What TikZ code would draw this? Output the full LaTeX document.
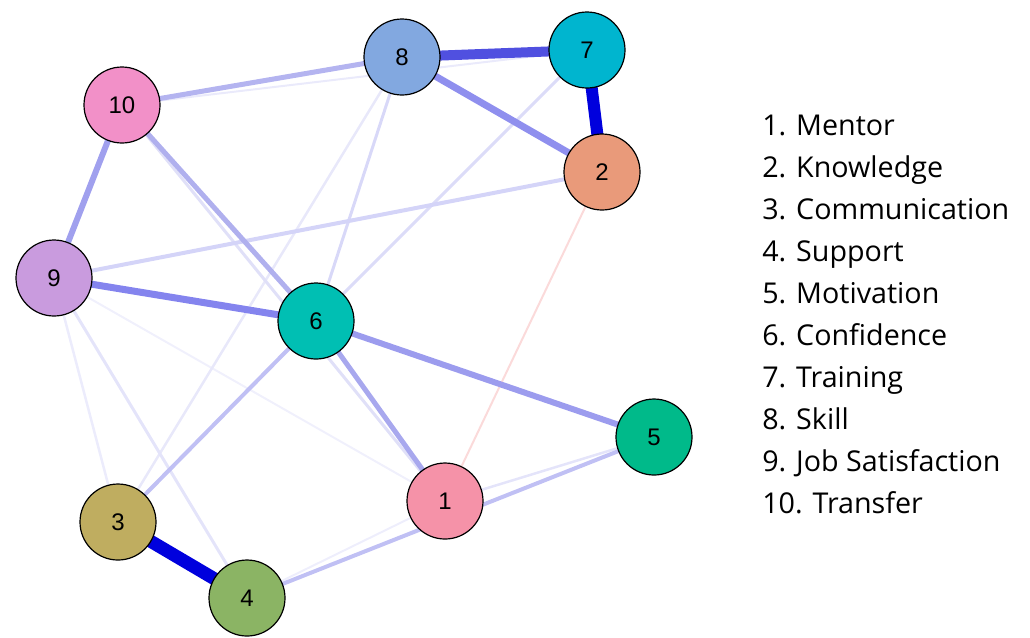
\documentclass[tikz,border=0pt]{standalone}
\usepackage{fontspec}
\setmainfont{Liberation Sans}
\newfontfamily\legendfont{Open Sans}
% node colours
\definecolor{c1}{HTML}{F592A8}
\definecolor{c2}{HTML}{E99A7A}
\definecolor{c3}{HTML}{BFAD60}
\definecolor{c4}{HTML}{8BB464}
\definecolor{c5}{HTML}{00BA8A}
\definecolor{c6}{HTML}{00BFB3}
\definecolor{c7}{HTML}{00B5CF}
\definecolor{c8}{HTML}{82A8E0}
\definecolor{c9}{HTML}{C99BDE}
\definecolor{c10}{HTML}{F290C8}
% edge colours, weakest to strongest
\definecolor{eneg}{HTML}{FBDADA}
\definecolor{e1}{HTML}{F0F0FC}
\definecolor{e2}{HTML}{EEEEFC}
\definecolor{e3}{HTML}{EAEAFB}
\definecolor{e4}{HTML}{ECECFC}
\definecolor{e5}{HTML}{E8E8FA}
\definecolor{e6}{HTML}{E4E4FA}
\definecolor{e7}{HTML}{E0E0F8}
\definecolor{e8}{HTML}{DCDCF8}
\definecolor{e9}{HTML}{D8D8F8}
\definecolor{e10}{HTML}{D4D4F8}
\definecolor{e11}{HTML}{C0C0F4}
\definecolor{e12}{HTML}{B4B4F0}
\definecolor{e13}{HTML}{B0B0EE}
\definecolor{e14}{HTML}{A8A8EE}
\definecolor{e15}{HTML}{A0A0EE}
\definecolor{e16}{HTML}{9C9CEE}
\definecolor{e17}{HTML}{8484EE}
\definecolor{e18}{HTML}{8F8FEE}
\definecolor{e19}{HTML}{5050E0}
\definecolor{e20}{HTML}{0000DD}
\begin{document}
\begin{tikzpicture}[x=0.75pt,y=-0.75pt,
  vert/.style={circle,draw=black,line width=0.9pt,minimum size=57pt,inner sep=0pt,
    font=\fontsize{18}{18}\selectfont},
  edge/.style 2 args={draw={#1},line width=#2*0.75pt},
  legend/.style={anchor=base west,inner sep=0pt,font=\legendfont\fontsize{21.5}{21.5}\selectfont}]
\useasboundingbox (0,0) rectangle (1030,637);
% coordinates of the variables
\coordinate (p1) at (445,501);
\coordinate (p2) at (602,172);
\coordinate (p3) at (118,522);
\coordinate (p4) at (247,598);
\coordinate (p5) at (654,437);
\coordinate (p6) at (316,321);
\coordinate (p7) at (587,50);
\coordinate (p8) at (402,57);
\coordinate (p9) at (54,278);
\coordinate (p10) at (122,105);
% edges, weakest first
\path[edge={eneg}{2}] (p2) -- (p1);
\path[edge={e1}{2}] (p9) -- (p1);
\path[edge={e2}{2}] (p4) -- (p1);
\path[edge={e3}{2}] (p10) -- (p7);
\path[edge={e4}{2.5}] (p9) -- (p3);
\path[edge={e5}{2.5}] (p3) -- (p8);
\path[edge={e6}{3}] (p9) -- (p4);
\path[edge={e6}{2.5}] (p1) -- (p5);
\path[edge={e7}{3}] (p10) -- (p1);
\path[edge={e8}{3}] (p7) -- (p6);
\path[edge={e9}{3}] (p8) -- (p6);
\path[edge={e10}{4}] (p9) -- (p2);
\path[edge={e11}{4}] (p6) -- (p3);
\path[edge={e11}{4}] (p4) -- (p5);
\path[edge={e12}{5}] (p10) -- (p8);
\path[edge={e13}{5}] (p10) -- (p6);
\path[edge={e14}{5}] (p6) -- (p1);
\path[edge={e15}{6}] (p10) -- (p9);
\path[edge={e16}{6}] (p6) -- (p5);
\path[edge={e17}{7}] (p9) -- (p6);
\path[edge={e18}{7}] (p8) -- (p2);
\path[edge={e19}{10}] (p8) -- (p7);
\path[edge={e20}{12}] (p7) -- (p2);
\path[edge={e20}{13}] (p3) -- (p4);
% variables
\node[vert,fill=c1] (n1) at (p1) {1};
\node[vert,fill=c2] (n2) at (p2) {2};
\node[vert,fill=c3] (n3) at (p3) {3};
\node[vert,fill=c4] (n4) at (p4) {4};
\node[vert,fill=c5] (n5) at (p5) {5};
\node[vert,fill=c6] (n6) at (p6) {6};
\node[vert,fill=c7] (n7) at (p7) {7};
\node[vert,fill=c8] (n8) at (p8) {8};
\node[vert,fill=c9] (n9) at (p9) {9};
\node[vert,fill=c10] (n10) at (p10) {10};
% legend
\node[legend] (l1) at (762,135) {1. Mentor};
\node[legend] (l2) at (762,177) {2. Knowledge};
\node[legend] (l3) at (762,219) {3. Communication};
\node[legend] (l4) at (762,261) {4. Support};
\node[legend] (l5) at (762,303) {5. Motivation};
\node[legend] (l6) at (762,345) {6. Confidence};
\node[legend] (l7) at (762,387) {7. Training};
\node[legend] (l8) at (762,429) {8. Skill};
\node[legend] (l9) at (762,471) {9. Job Satisfaction};
\node[legend] (l10) at (762,513) {10. Transfer};
\end{tikzpicture}
\end{document}
